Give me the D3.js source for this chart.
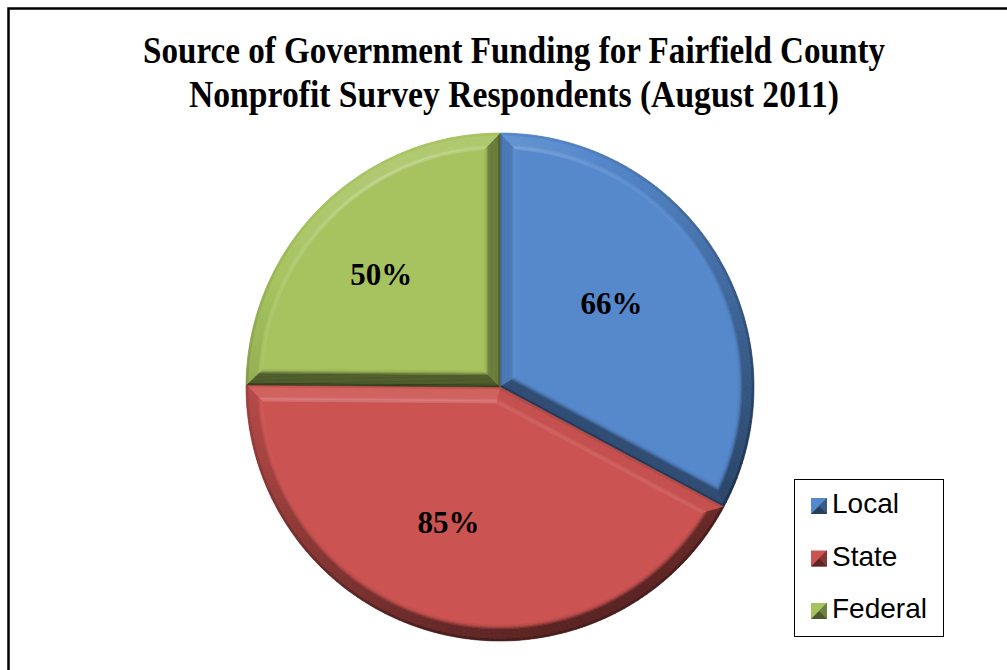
<!DOCTYPE html>
<html>
<head>
<meta charset="utf-8">
<script src="https://cdn.jsdelivr.net/npm/d3@7"></script>
<style>
  html, body { margin: 0; padding: 0; background: #fff; }
  svg { display: block; }
</style>
</head>
<body>
<svg id="chart" width="1007" height="670"></svg>
<script>
// ---- Data ----
const categories = ["Local", "State", "Federal"];
const values = [66, 85, 50];
const valueLabels = ["66%", "85%", "50%"];
const colors = ["#5689cc", "#cb5452", "#a6c35f"];
const titleLines = [
  "Source of Government Funding for Fairfield County",
  "Nonprofit Survey Respondents (August 2011)"
];

// ---- Layout ----
const W = 1007, H = 670;
const cx = 500, cy = 387, R = 254, bevel = 16;
const svg = d3.select("#chart");

const defs = svg.append("defs");
defs.append("filter").attr("id", "soft")
  .attr("x", "-5%").attr("y", "-5%").attr("width", "110%").attr("height", "110%")
  .append("feGaussianBlur").attr("stdDeviation", 0.7);

// frame
svg.append("rect")
  .attr("x", 8.5).attr("y", 8.5)
  .attr("width", W + 20).attr("height", H + 20)
  .attr("fill", "#fff").attr("stroke", "#000").attr("stroke-width", 2.5);

// title
const titleG = svg.append("g")
  .attr("font-family", "'Liberation Serif', 'Times New Roman', serif")
  .attr("font-weight", "bold")
  .attr("font-size", 37)
  .attr("fill", "#000");
const titleWidths = [742, 650];
const titleBase = [63, 107];
titleLines.forEach((t, i) => {
  titleG.append("text")
    .attr("x", 514).attr("y", titleBase[i])
    .attr("text-anchor", "middle")
    .attr("textLength", titleWidths[i])
    .attr("lengthAdjust", "spacingAndGlyphs")
    .text(t);
});

// ---- Pie ----
const pie = d3.pie().sort(null).value(d => d);
const arcs = pie(values);
const arcGen = d3.arc().innerRadius(0).outerRadius(R);
const g = svg.append("g").attr("transform", `translate(${cx},${cy})`);

g.selectAll("path.slice").data(arcs).enter().append("path")
  .attr("class", "slice")
  .attr("d", arcGen)
  .attr("fill", (d, i) => colors[i]);

// lighting for bevel
function norm(v) { const l = Math.hypot(v[0], v[1], v[2]); return v.map(x => x / l); }
const Lt = norm([-0.25, -0.6, 1.0]);
const Hv = norm([Lt[0], Lt[1], Lt[2] + 1]);
function shade(base, nx, ny, phi) {
  const n = [nx * Math.sin(phi), ny * Math.sin(phi), Math.cos(phi)];
  const I = n[0] * Lt[0] + n[1] * Lt[1] + n[2] * Lt[2];
  const r = I / Lt[2];
  let col;
  if (r < 1) {
    col = d3.interpolateRgb("#000", base)(0.34 + 0.66 * Math.max(r, 0));
  } else {
    col = d3.interpolateRgb(base, "#fff")(Math.min(1, (r - 1) * 0.9));
  }
  const s = Math.pow(Math.max(0, n[0] * Hv[0] + n[1] * Hv[1] + n[2] * Hv[2]), 80) * 0.4;
  return d3.interpolateRgb(col, "#fff")(s);
}
function profile(v) { // v: 0 outer edge -> 1 inner edge ; returns slope angle
  const deg = Math.PI / 180;
  if (v < 0.15) return 62 * deg;
  if (v < 0.72) return 50 * deg;
  return 50 * deg * (1 - v) / 0.28;
}
const P = (a, r) => [r * Math.sin(a), -r * Math.cos(a)];
const lerp = (p, q, t) => [p[0] + (q[0] - p[0]) * t, p[1] + (q[1] - p[1]) * t];
const NB = 12;
const bevelG = g.append("g").attr("filter", "url(#soft)");
function quad(pts, fill) {
  bevelG.append("path")
    .attr("d", "M" + pts.map(p => p[0].toFixed(2) + "," + p[1].toFixed(2)).join("L") + "Z")
    .attr("fill", fill).attr("stroke", fill).attr("stroke-width", 0.6)
    .attr("stroke-linejoin", "round");
}
function bandFacet(outerA, outerB, innerA, innerB, base, nx, ny) {
  for (let k = 0; k < NB; k++) {
    const v0 = k / NB, v1 = (k + 1) / NB, vm = (v0 + v1) / 2;
    const fill = shade(base, nx, ny, profile(vm));
    quad([lerp(outerA, innerA, v0), lerp(outerB, innerB, v0),
          lerp(outerB, innerB, v1), lerp(outerA, innerA, v1)], fill);
  }
}

arcs.forEach((d, i) => {
  const a0 = d.startAngle, a1 = d.endAngle, th = a1 - a0;
  const base = colors[i];
  const Ri = R - bevel;
  const del = Math.asin(bevel / Ri);
  const b0 = a0 + del, b1 = a1 - del;
  const am = (a0 + a1) / 2;
  const corner = P(am, bevel / Math.sin(th / 2));
  const C = [0, 0];
  bandFacet(C, P(a0, R), corner, P(b0, Ri), base, -Math.cos(a0), -Math.sin(a0));
  bandFacet(C, P(a1, R), corner, P(b1, Ri), base, Math.cos(a1), Math.sin(a1));
  const steps = Math.max(4, Math.ceil(th / (Math.PI / 150)));
  for (let s = 0; s < steps; s++) {
    const u0 = s / steps, u1 = (s + 1) / steps, um = (u0 + u1) / 2;
    const am2 = a0 + th * um;
    bandFacet(P(a0 + th * u0, R), P(a0 + th * u1, R),
              P(b0 + (b1 - b0) * u0, Ri), P(b0 + (b1 - b0) * u1, Ri),
              base, Math.sin(am2), -Math.cos(am2));
  }
});

// value labels (Excel best-fit places them slightly up-left of the centroid)
const labelArc = d3.arc().innerRadius(R * 0.58).outerRadius(R * 0.58);
g.selectAll("text.lbl").data(arcs).enter().append("text")
  .attr("class", "lbl")
  .attr("transform", d => { const c = labelArc.centroid(d); return `translate(${c[0] - 15},${c[1] - 8})`; })
  .attr("text-anchor", "middle")
  .attr("dy", "0.35em")
  .attr("font-family", "'Liberation Serif', 'Times New Roman', serif")
  .attr("font-weight", "bold")
  .attr("font-size", 31)
  .attr("fill", "#000")
  .text((d, i) => valueLabels[i]);

// ---- Legend ----
const lg = svg.append("g");
lg.append("rect")
  .attr("x", 794.5).attr("y", 479.5).attr("width", 149).attr("height", 157)
  .attr("fill", "#fff").attr("stroke", "#000").attr("stroke-width", 1);
const rowY = d3.scalePoint().domain(categories).range([513, 618]);
categories.forEach((c, i) => {
  const y = rowY(c);
  const x0 = 811, sz = 16, top = y - 15;
  const dark = d3.interpolateRgb("#000", colors[i])(0.45);
  const mid = d3.interpolateRgb("#000", colors[i])(0.8);
  lg.append("rect").attr("x", x0).attr("y", top).attr("width", sz).attr("height", sz).attr("fill", colors[i]);
  lg.append("path").attr("d", `M${x0},${top + sz}L${x0 + sz},${top}L${x0 + sz},${top + sz}Z`).attr("fill", dark);
  lg.append("path").attr("d", `M${x0 + sz / 2},${top + sz / 2}L${x0 + sz},${top}L${x0 + sz},${top + sz}Z`).attr("fill", mid).attr("opacity", 0.6);
  lg.append("text")
    .attr("x", 832).attr("y", y)
    .attr("font-family", "'Liberation Sans', Arial, sans-serif")
    .attr("font-size", 28)
    .attr("fill", "#000")
    .text(c);
});
</script>
</body>
</html>
